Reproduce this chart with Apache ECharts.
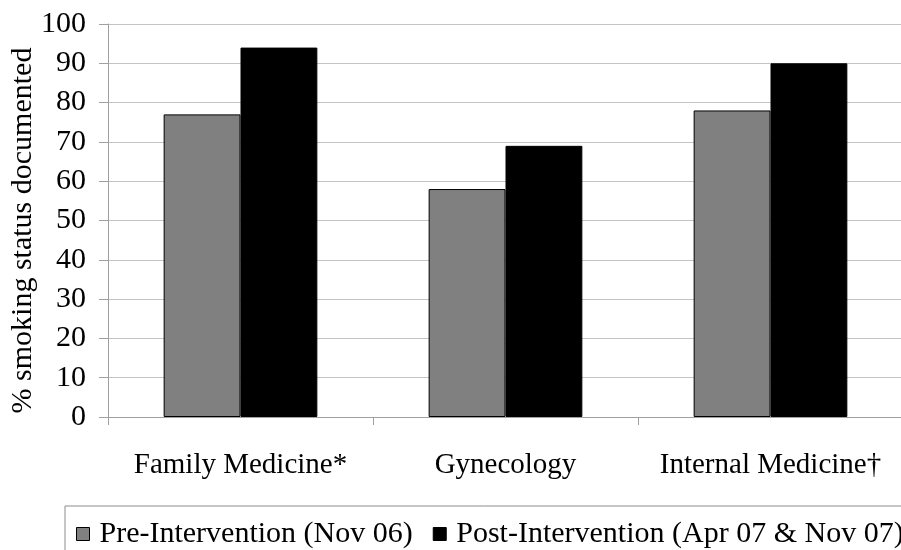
<!DOCTYPE html>
<html>
<head>
<meta charset="utf-8">
<script src="https://cdn.jsdelivr.net/npm/echarts@6/dist/echarts.min.js"></script>
<style>
  html, body { margin: 0; padding: 0; background: #fff; }
  #chart { width: 901px; height: 550px; }
</style>
</head>
<body>
<div id="chart"></div>
<script>
// Departments compared
const categories = ['Family Medicine*', 'Gynecology', 'Internal Medicine\u2020'];
// % of visits with smoking status documented
const preIntervention = [77, 58, 78];
const postIntervention = [94, 69, 90];
const seriesNames = ['Pre-Intervention (Nov 06)', 'Post-Intervention (Apr 07 & Nov 07)'];
const yTicks = { min: 0, max: 100, interval: 10 };

const serif = '"Liberation Serif", "DejaVu Serif", serif';
const chart = echarts.init(document.getElementById('chart'), null, { renderer: 'canvas' });

chart.setOption({
  animation: false,
  backgroundColor: '#ffffff',
  grid: {
    left: 108, top: 24, width: 795, height: 393,
    containLabel: false,
    outerBoundsMode: 'none'
  },
  legend: {
    left: 65,
    top: 506,
    width: 1200,
    orient: 'horizontal',
    itemWidth: 13,
    itemHeight: 13,
    itemGap: 20,
    padding: [13, 20, 30, 11],
    borderColor: '#8c8c8c',
    borderWidth: 1,
    icon: 'rect',
    textStyle: { fontFamily: serif, fontSize: 30, color: '#000', padding: [2, 0, 0, 5] },
    data: [
      { name: seriesNames[0], itemStyle: { color: '#808080', borderColor: '#000', borderWidth: 1 } },
      { name: seriesNames[1], itemStyle: { color: '#000', borderColor: '#000', borderWidth: 1 } }
    ]
  },
  xAxis: {
    type: 'category',
    data: categories,
    boundaryGap: true,
    axisLine: { show: true, lineStyle: { color: '#a0a0a0', width: 1 } },
    axisTick: { show: true, length: 8, lineStyle: { color: '#a0a0a0' } },
    axisLabel: { interval: 0, fontFamily: serif, fontSize: 29, color: '#000', margin: 34 }
  },
  yAxis: {
    type: 'value',
    min: yTicks.min,
    max: yTicks.max,
    interval: yTicks.interval,
    name: '% smoking status documented',
    nameLocation: 'middle',
    nameGap: 70,
    nameMoveOverlap: false,
    nameRotate: 90,
    nameTextStyle: { fontFamily: serif, fontSize: 30, color: '#000', padding: [0, 20, 0, 0] },
    axisLine: { show: true, lineStyle: { color: '#a0a0a0', width: 1 } },
    axisTick: { show: true, inside: false, length: 9, lineStyle: { color: '#a0a0a0' } },
    axisLabel: { fontFamily: serif, fontSize: 30, color: '#000', margin: 22 },
    splitLine: { show: true, lineStyle: { color: '#c4c4c4', width: 1 } }
  },
  series: [
    {
      name: seriesNames[0],
      type: 'bar',
      data: preIntervention,
      barGap: '0%',
      barCategoryGap: '42%',
      itemStyle: { color: '#808080', borderColor: '#000', borderWidth: 1 }
    },
    {
      name: seriesNames[1],
      type: 'bar',
      data: postIntervention,
      barGap: '0%',
      barCategoryGap: '42%',
      itemStyle: { color: '#000', borderColor: '#000', borderWidth: 1 }
    }
  ]
});
</script>
</body>
</html>
